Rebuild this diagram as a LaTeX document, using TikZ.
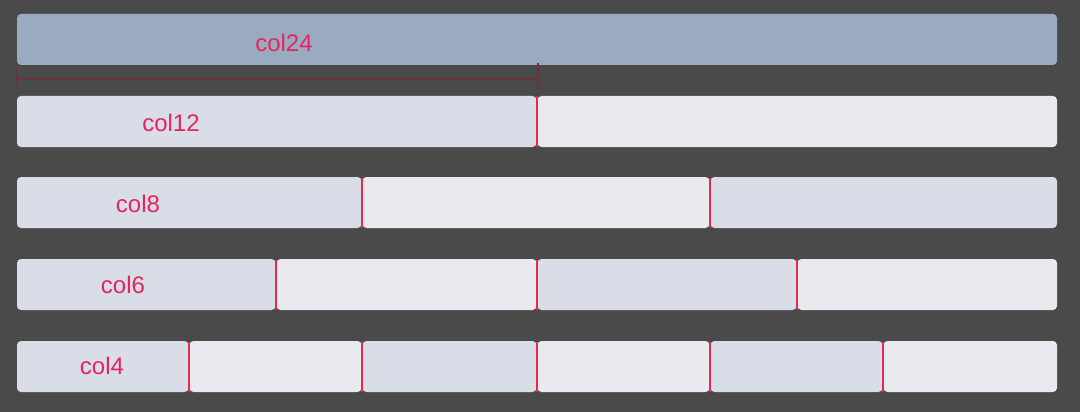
\documentclass[tikz,border=0pt]{standalone}
\usepackage{fontspec}
\setmainfont{Liberation Sans}
\definecolor{bg}{HTML}{4A4A4A}
\definecolor{top}{HTML}{9AAAC0}
\definecolor{cA}{HTML}{D8DDE7}
\definecolor{cB}{HTML}{E9EAF0}
\definecolor{cBb}{HTML}{E8E9EE}
\definecolor{sep}{HTML}{E8284F}
\definecolor{lbl}{HTML}{E8245F}
\definecolor{mark}{HTML}{6A3340}
\begin{document}
\begin{tikzpicture}[x=1pt,y=-1pt,
  cell/.style={rounded corners=4pt,inner sep=0pt,outer sep=0pt},
  seprule/.style={draw=sep,line width=1.3pt},
  lab/.style={text=lbl,font=\fontsize{24}{26}\selectfont,inner sep=0pt},
  markline/.style={draw=mark,line width=1.2pt}]
\fill[bg] (0,0) rectangle (1080,412);
\useasboundingbox (0,0) rectangle (1080,412);
% row 1
\fill[top,cell] (17,14) rectangle (1057,65);
\node[lab] (l24) at (284,43) {col24};
% marker
\coordinate (m1) at (17,79);
\coordinate (m2) at (538,79);
\draw[markline] (m1) -- (m2);
\draw[markline] ([yshift=-7pt]m1) -- ([yshift=11pt]m1);
\draw[markline] ([yshift=-10pt]m2) -- ([yshift=16pt]m2);
% row 2
\fill[cA,cell] (17,96) rectangle (536.5,147);
\fill[cBb,cell] (537.5,96) rectangle (1057,147);
\draw[seprule] (537,96.5) -- (537,146.5);
\node[lab] (l12) at (171,123) {col12};
% row 3
\fill[cA,cell] (17,177) rectangle (361.5,228);
\fill[cB,cell] (362.5,177) rectangle (709.5,228);
\fill[cA,cell] (710.5,177) rectangle (1057,228);
\foreach \x in {362,710} \draw[seprule] (\x,177.5) -- (\x,227.5);
\node[lab] (l8) at (138,204) {col8};
% row 4
\fill[cA,cell] (17,259) rectangle (275.5,310);
\fill[cB,cell] (276.5,259) rectangle (536.5,310);
\fill[cA,cell] (537.5,259) rectangle (796.5,310);
\fill[cB,cell] (797.5,259) rectangle (1057,310);
\foreach \x in {276,537,797} \draw[seprule] (\x,259.5) -- (\x,309.5);
\node[lab] (l6) at (123,285) {col6};
% row 5
\fill[cA,cell] (17,341) rectangle (188.5,392);
\fill[cB,cell] (189.5,341) rectangle (361.5,392);
\fill[cA,cell] (362.5,341) rectangle (536.5,392);
\fill[cB,cell] (537.5,341) rectangle (709.5,392);
\fill[cA,cell] (710.5,341) rectangle (882.5,392);
\fill[cB,cell] (883.5,341) rectangle (1057,392);
\foreach \x in {189,362,537,710,883} \draw[seprule] (\x,341.5) -- (\x,391.5);
\node[lab] (l4) at (102,366) {col4};
\end{tikzpicture}
\end{document}
